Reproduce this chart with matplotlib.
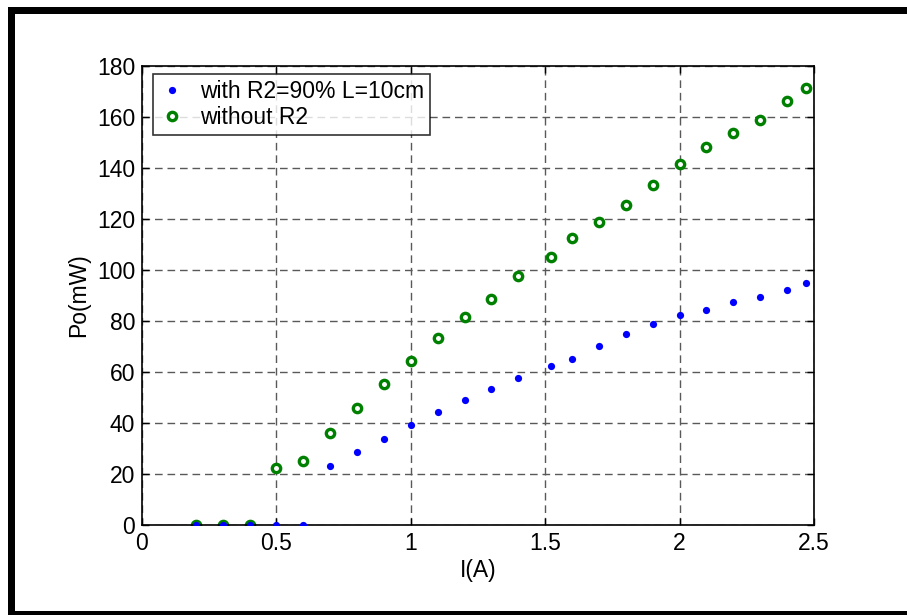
import matplotlib
matplotlib.use('Agg')
import matplotlib.pyplot as plt
from matplotlib.patches import Rectangle

plt.rcParams['font.family'] = ['Liberation Sans', 'DejaVu Sans']

# corrente (A) e potencia de saida (mW)
current = [0.2, 0.3, 0.4, 0.5, 0.6, 0.7, 0.8, 0.9, 1.0, 1.1, 1.2, 1.3, 1.4, 1.52,
           1.6, 1.7, 1.8, 1.9, 2.0, 2.1, 2.2, 2.3, 2.4, 2.47]
power_r2 = [0, 0, 0, 0, 0, 23.0, 28.7, 33.7, 39.2, 44.2, 49.1, 53.2, 57.5, 62.5,
            65.1, 70.1, 75.0, 78.7, 82.4, 84.4, 87.5, 89.3, 92.0, 95.0]
power_no_r2 = [0, 0, 0, 22.5, 25.1, 36.2, 45.8, 55.2, 64.4, 73.2, 81.7, 88.6, 97.6, 105.0,
               112.7, 118.9, 125.6, 133.2, 141.4, 148.1, 153.9, 158.8, 166.4, 171.5]
labels = ['with R2=90% L=10cm', 'without R2']

W, H = 907, 615
fs = 16.5
fig = plt.figure(figsize=(W / 100, H / 100), dpi=100)
ax = fig.add_axes([142 / W, 1 - 525 / H, (814 - 142) / W, (525 - 66) / H])

ax.plot(current, power_r2, 'o', color='blue', markersize=5.2, markeredgewidth=0,
        label=labels[0], zorder=3)
ax.plot(current, power_no_r2, 'o', color=(0, 0.5, 0), markerfacecolor='white',
        markersize=6, markeredgewidth=2.4, label=labels[1], zorder=2)

ax.set_xlim(0, 2.5)
ax.set_ylim(0, 180)
ax.set_xticks([0, 0.5, 1, 1.5, 2, 2.5])
ax.set_xticklabels(['0', '0.5', '1', '1.5', '2', '2.5'])
ax.set_yticks(range(0, 181, 20))
ax.grid(True, color='0.35', linestyle=(0, (5.5, 3.5)), linewidth=1)
ax.tick_params(direction='in', length=5, width=1, top=True, right=True,
               labelsize=fs, pad=5, colors='black')
for s in ax.spines.values():
    s.set_linewidth(1.2)

ax.set_xlabel('I(A)', fontsize=fs, labelpad=3)
ax.set_ylabel('Po(mW)', fontsize=fs, labelpad=5)

leg = ax.legend(loc='upper left', bbox_to_anchor=((153 - 142) / 672, (525 - 74) / 459),
                fontsize=fs, frameon=True, fancybox=False, borderaxespad=0,
                handletextpad=0.6, handlelength=1.2, borderpad=0.25, labelspacing=0.15)
leg.get_frame().set_edgecolor('black')
leg.get_frame().set_linewidth(1.2)

# moldura preta em volta da figura
for x0, y0, w, h in [(8, 7, 899, 7), (8, 7, 7, 608), (8, 611, 899, 4)]:
    fig.add_artist(Rectangle((x0 / W, 1 - (y0 + h) / H), w / W, h / H,
                             transform=fig.transFigure, color='black', lw=0))

fig.savefig('out.png', dpi=100)
